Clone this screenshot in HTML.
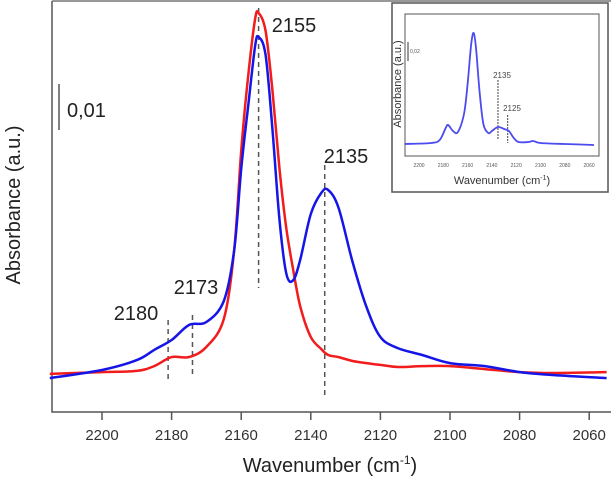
<!DOCTYPE html>
<html><head><meta charset="utf-8"><style>
body{margin:0;background:#fff;}
svg{display:block;font-family:"Liberation Sans",Arial,sans-serif;}
</style></head><body>
<svg id="chart" width="611" height="480" viewBox="0 0 611 480">
<rect x="0" y="0" width="611" height="480" fill="#fff"/>
<g id="main"></g>
<g id="inset"></g>
</svg>
<script>
// main chart data
const wavenumbers = [2215,2200,2190,2185,2180,2175,2170,2165,2162,2160,2158,2156,2155,2153,2151,2149,2147,2145,2143,2140,2137,2135,2132,2128,2124,2120,2115,2108,2100,2090,2080,2070,2055];
const blueValues = [-0.0017,0.001,0.0043,0.0077,0.011,0.016,0.017,0.024,0.041,0.068,0.089,0.109,0.112,0.106,0.081,0.051,0.033,0.031,0.038,0.053,0.060,0.061,0.055,0.037,0.022,0.012,0.0083,0.006,0.0033,0.0023,0.0003,-0.0007,-0.0017];
const redValues = [-0.0003,0.0003,0.0007,0.0023,0.0053,0.0053,0.0087,0.018,0.041,0.074,0.099,0.118,0.120,0.114,0.094,0.068,0.048,0.034,0.022,0.012,0.008,0.006,0.0053,0.004,0.0033,0.0027,0.002,0.0023,0.0023,0.0013,0.0003,0,0.0003];
const xTicks = [2200,2180,2160,2140,2120,2100,2080,2060];
const peakLabels = ["2180","2173","2155","2135"];
const peakPositions = [2181,2174,2155,2136];
// inset data
const insetWavenumbers = [2212,2190,2183,2178,2176,2172,2168,2163,2160,2157,2155,2153,2150,2147,2143,2140,2135,2130,2126,2122,2118,2110,2106,2100,2080,2056];
const insetValues = [0,0.001,0.004,0.016,0.019,0.013,0.012,0.03,0.06,0.1,0.111,0.095,0.05,0.02,0.011,0.013,0.017,0.015,0.013,0.006,0.002,0.002,0.003,0.001,0,-0.001];
const insetTicks = [2200,2180,2160,2140,2120,2100,2080,2060];
const insetPeakLabels = ["2135","2125"];
const insetPeakPositions = [2135,2127];

const NS="http://www.w3.org/2000/svg";
function mk(parent,tag,attrs){const e=document.createElementNS(NS,tag);for(const k in attrs)e.setAttribute(k,attrs[k]);parent.appendChild(e);return e;}
function smooth(pts){let d="M"+pts[0][0].toFixed(1)+","+pts[0][1].toFixed(1);
 for(let i=0;i<pts.length-1;i++){const p0=pts[i-1]||pts[i],p1=pts[i],p2=pts[i+1],p3=pts[i+2]||p2;
 const c1=[p1[0]+(p2[0]-p0[0])/6,p1[1]+(p2[1]-p0[1])/6],c2=[p2[0]-(p3[0]-p1[0])/6,p2[1]-(p3[1]-p1[1])/6];
 d+=" C"+c1[0].toFixed(1)+","+c1[1].toFixed(1)+" "+c2[0].toFixed(1)+","+c2[1].toFixed(1)+" "+p2[0].toFixed(1)+","+p2[1].toFixed(1);}return d;}

const xS=w=>102+(2200-w)*3.48;
const yS=v=>373-v*3000;
const g=document.getElementById('main');
let e;
e=mk(g,'path',{d:"M52,1 V412 H611",fill:"none",stroke:"#555","stroke-width":1.5});


e=mk(g,'line',{x1:52,y1:1,x2:611,y2:1,stroke:"#777","stroke-width":1.5});


xTicks.forEach(t=>{const x=xS(t);
 e=mk(g,'line',{x1:x,y1:412,x2:x,y2:420,stroke:"#555","stroke-width":1.5});
 
 
 e=mk(g,'text',{x:x,y:440,"text-anchor":"middle","font-size":15,fill:"#333"});e.textContent=t;
 
 });
e=mk(g,'text',{x:330,y:472,"text-anchor":"middle","font-size":20,fill:"#222"});
e.innerHTML='Wavenumber (cm<tspan dy="-8" font-size="12">-1</tspan><tspan dy="8">)</tspan>';


e=mk(g,'text',{x:0,y:0,"text-anchor":"middle","font-size":20,fill:"#222",transform:"translate(20,205) rotate(-90)"});e.textContent="Absorbance (a.u.)";


e=mk(g,'line',{x1:59,y1:84,x2:59,y2:130,stroke:"#555","stroke-width":1.5});


e=mk(g,'text',{x:67,y:117,"font-size":20,fill:"#222"});e.textContent="0,01";


const dashY=[[320,383],[315,375],[8,288],[165,395]];
const labPos=[[136,320],[196,294],[294,32],[346,163]];
peakPositions.forEach((p,i)=>{const x=xS(p);
 e=mk(g,'line',{x1:x,y1:dashY[i][0],x2:x,y2:dashY[i][1],stroke:"#555","stroke-width":1.5,"stroke-dasharray":"5,4"});
 
 
 e=mk(g,'text',{x:labPos[i][0],y:labPos[i][1],"text-anchor":"middle","font-size":20,fill:"#222"});e.textContent=peakLabels[i];
 
 });
e=mk(g,'path',{d:smooth(wavenumbers.map((w,i)=>[xS(w),yS(redValues[i])])),fill:"none",stroke:"#f21c1c","stroke-width":2.5});


e=mk(g,'path',{d:smooth(wavenumbers.map((w,i)=>[xS(w),yS(blueValues[i])])),fill:"none",stroke:"#1515e8","stroke-width":2.5});



// inset
const ig=document.getElementById('inset');
const ixS=w=>419+(2200-w)*24.3/20;
const iyS=v=>144-v*1000;
e=mk(ig,'rect',{x:392,y:3,width:216,height:189,fill:"#fff",stroke:"#555","stroke-width":1.5});


e=mk(ig,'rect',{x:405,y:14,width:194,height:142,fill:"none",stroke:"#555","stroke-width":1});


insetTicks.forEach(t=>{e=mk(ig,'text',{x:ixS(t),y:167,"text-anchor":"middle","font-size":5,fill:"#555"});e.textContent=t;
 
 });
e=mk(ig,'text',{x:502,y:184,"text-anchor":"middle","font-size":11,fill:"#333"});
e.innerHTML='Wavenumber (cm<tspan dy="-4" font-size="7">-1</tspan><tspan dy="4">)</tspan>';


e=mk(ig,'text',{x:0,y:0,"text-anchor":"middle","font-size":11,fill:"#333",transform:"translate(401,84) rotate(-90)"});e.textContent="Absorbance (a.u.)";


e=mk(ig,'line',{x1:408,y1:42,x2:408,y2:61,stroke:"#555","stroke-width":1.2});


e=mk(ig,'text',{x:410,y:53,"font-size":5,fill:"#555"});e.textContent="0,02";


const iDash=[[80,140],[115,143]],iLab=[[502,78],[512,111]];
insetPeakPositions.forEach((p,i)=>{const x=ixS(p);
 e=mk(ig,'line',{x1:x,y1:iDash[i][0],x2:x,y2:iDash[i][1],stroke:"#444","stroke-width":1,"stroke-dasharray":"2,1"});
 
 
 e=mk(ig,'text',{x:iLab[i][0],y:iLab[i][1],"text-anchor":"middle","font-size":8,fill:"#444"});e.textContent=insetPeakLabels[i];
 
 });
e=mk(ig,'path',{d:smooth(insetWavenumbers.map((w,i)=>[ixS(w),iyS(insetValues[i])])),fill:"none",stroke:"#4b4bf0","stroke-width":1.8});


</script>
</body></html>
